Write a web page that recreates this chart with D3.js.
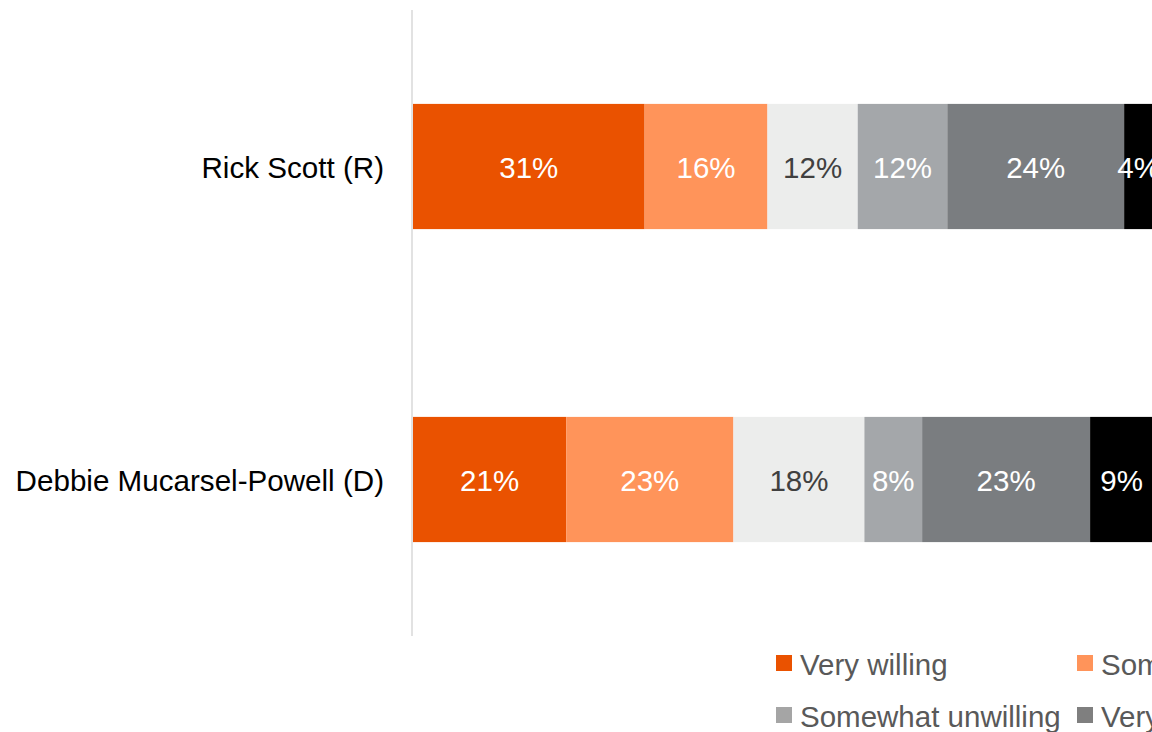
<!DOCTYPE html>
<html>
<head>
<meta charset="utf-8">
<script src="https://cdn.jsdelivr.net/npm/d3@7"></script>
<style>
  html, body { margin: 0; padding: 0; background: #fff; overflow: hidden; }
  svg { display: block; }
</style>
</head>
<body>
<div id="chart"></div>
<script>
// ---- data ----
const categories = ["Rick Scott (R)", "Debbie Mucarsel-Powell (D)"];
const seriesNames = ["Very willing", "Somewhat willing", "Neither", "Somewhat unwilling", "Very unwilling", "Haven't heard enough"];
const rickValues = [31.3, 16.6, 12.2, 12.1, 23.9, 3.9];
const debbieValues = [20.7, 22.6, 17.7, 7.8, 22.7, 8.5];
const rickLabels = ["31%", "16%", "12%", "12%", "24%", "4%"];
const debbieLabels = ["21%", "23%", "18%", "8%", "23%", "9%"];
const legendRows = [["Very willing", "Somewhat willing", "Neither"], ["Somewhat unwilling", "Very unwilling", "Haven't heard enough"]];

// ---- styles ----
const barColors = ["#EA5200", "#FF945A", "#ECEDEC", "#A4A7AA", "#7A7D80", "#000000"];
const legendColors = {
  "Very willing": "#EA5200", "Somewhat willing": "#FF945A", "Neither": "#ECEDEC",
  "Somewhat unwilling": "#A5A5A5", "Very unwilling": "#7F7F7F", "Haven't heard enough": "#000000"
};
const labelColors = ["#ffffff", "#ffffff", "#404040", "#ffffff", "#ffffff", "#ffffff"];

const W = 1152, H = 732;
const svg = d3.select("#chart").append("svg").attr("width", W).attr("height", H);

const x = d3.scaleLinear().domain([0, 100]).range([413, 1153]);
const y = d3.scaleBand().domain(categories).range([10, 636]).paddingInner(0.6).paddingOuter(0.3);

const rows = [
  { cat: categories[0], values: rickValues, labels: rickLabels },
  { cat: categories[1], values: debbieValues, labels: debbieLabels }
];

rows.forEach(r => {
  let acc = 0;
  r.segs = r.values.map((v, i) => {
    const s = { i, x0: acc, x1: acc + v, label: r.labels[i] };
    acc += v;
    return s;
  });
});

const g = svg.append("g");
rows.forEach(r => {
  const row = g.append("g");
  row.selectAll("rect").data(r.segs).join("rect")
    .attr("x", d => x(d.x0))
    .attr("width", d => x(d.x1) - x(d.x0))
    .attr("y", y(r.cat))
    .attr("height", y.bandwidth())
    .attr("fill", d => barColors[d.i]);
  row.selectAll("text").data(r.segs).join("text")
    .attr("x", d => (x(d.x0) + x(d.x1)) / 2)
    .attr("y", y(r.cat) + y.bandwidth() / 2)
    .attr("dy", "0.4em")
    .attr("text-anchor", "middle")
    .attr("font-family", "'Liberation Sans', Arial, sans-serif")
    .attr("font-size", 29.5)
    .attr("fill", d => labelColors[d.i])
    .text(d => d.label);
});

// category axis
const yAxis = svg.append("g").attr("transform", `translate(${x(0) - 1},0)`)
  .call(d3.axisLeft(y).tickSize(0).tickPadding(28));
yAxis.select(".domain").attr("stroke", "#d9d9d9").attr("stroke-width", 1.5)
  .attr("d", `M0,10V636`);
yAxis.selectAll(".tick text")
  .attr("font-family", "'Liberation Sans', Arial, sans-serif")
  .attr("font-size", 29.6)
  .attr("dy", "0.38em")
  .attr("fill", "#000");

// legend
const legend = svg.append("g");
legendRows.forEach((rowItems, ri) => {
  rowItems.forEach((name, ci) => {
    const lx = 776 + ci * 301, ly = 655 + ri * 52;
    const it = legend.append("g").attr("transform", `translate(${lx},${ly})`);
    it.append("rect").attr("width", 16).attr("height", 16).attr("fill", legendColors[name]);
    it.append("text").attr("x", 24).attr("y", 8).attr("dy", "0.4em")
      .attr("font-family", "'Liberation Sans', Arial, sans-serif")
      .attr("font-size", 29.5)
      .attr("fill", "#595959")
      .text(name);
  });
});
</script>
</body>
</html>
